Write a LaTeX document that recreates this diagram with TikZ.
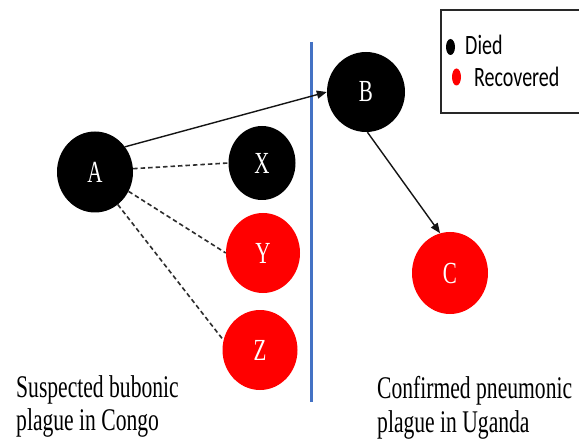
\documentclass[tikz,border=0pt]{standalone}
\usepackage{fontspec}
\usepackage{graphicx}
\setmainfont{Liberation Serif}
\newfontfamily\legfont{Carlito}
\usetikzlibrary{arrows.meta,shapes.geometric}
\definecolor{divblue}{RGB}{68,114,196}
\definecolor{dashgray}{RGB}{45,45,45}
\newcommand{\vstretch}[1]{\scalebox{1}[1.46]{#1}}
\begin{document}
\begin{tikzpicture}[x=1pt,y=-1pt,
  case/.style={ellipse, inner sep=0pt, draw=none, text=white,
    font=\fontsize{21}{24}\selectfont},
  diedcase/.style={case, fill=black},
  reccase/.style={case, fill=red},
  arr/.style={-{Triangle[length=10pt,width=8pt]}, line width=1.4pt, draw={rgb,255:red,20;green,20;blue,20}},
  dashlink/.style={dashed, dash pattern=on 4.5pt off 3pt, line width=1.6pt, draw=dashgray},
  caption/.style={anchor=base west, inner sep=0pt, font=\fontsize{21.6}{24}\selectfont},
  legtext/.style={anchor=base west, inner sep=0pt, font=\legfont\fontsize{20}{24}\selectfont}
]
\useasboundingbox (0,0) rectangle (579,441);
\fill[white] (0,0) rectangle (579,441);

% divider
\draw[divblue, line width=3pt] (311,42) -- (311,402);

% cases
\node[diedcase, minimum width=76pt, minimum height=81pt] (A) at (95,172) {\vstretch{A}};
\node[diedcase, minimum width=67pt, minimum height=74pt] (X) at (262,163) {\vstretch{X}};
\node[reccase, minimum width=74pt, minimum height=80pt] (Y) at (263,253) {\vstretch{Y}};
\node[reccase, minimum width=75pt, minimum height=80pt] (Z) at (260,350) {\vstretch{Z}};
\node[diedcase, minimum width=78pt, minimum height=80pt] (B) at (366,92) {\vstretch{B}};
\node[reccase, minimum width=76pt, minimum height=82pt] (C) at (450,273) {\vstretch{C}};

% connectors
\draw[arr] (A.40) -- (B.west);
\draw[arr] (B.272) -- (C.104);
\draw[dashlink] (A.5) -- (X.west);
\draw[dashlink] (A.-30) -- (Y.west);
\draw[dashlink] (A.-55) -- (Z.165);

% captions
\node[caption] (capL1) at (16,397) {\vstretch{Suspected bubonic}};
\node[caption] (capL2) at (16,430) {\vstretch{plague in Congo}};
\node[caption] (capR1) at (377,398) {\vstretch{Confirmed pneumonic}};
\node[caption] (capR2) at (377,432) {\vstretch{plague in Uganda}};

% legend
\draw[line width=1.5pt, line cap=butt, draw={rgb,255:red,40;green,40;blue,40}] (579,10) -- (441,10) -- (441,113) -- (579,113);
\fill[black] (450.5,47) ellipse [x radius=4.5, y radius=8];
\fill[red] (456.5,77) ellipse [x radius=4.5, y radius=8.5];
\node[legtext] (legD) at (465,55) {\scalebox{1}[1.4]{Died}};
\node[legtext] (legR) at (474,87) {\scalebox{1}[1.4]{Recovered}};
\end{tikzpicture}
\end{document}
